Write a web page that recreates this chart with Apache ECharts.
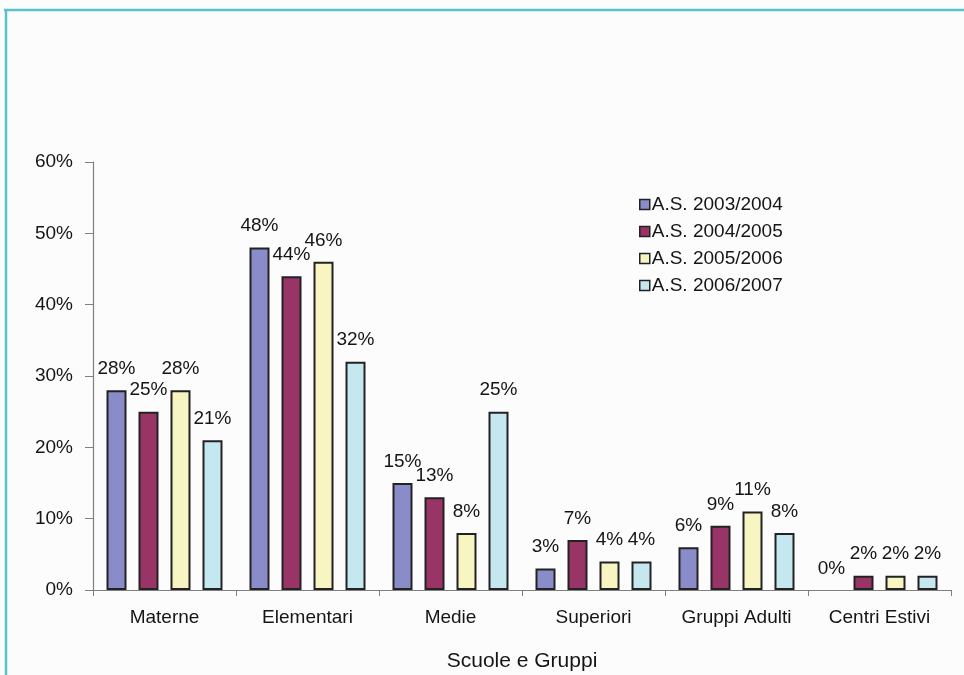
<!DOCTYPE html>
<html>
<head>
<meta charset="utf-8">
<script src="https://cdn.jsdelivr.net/npm/echarts@6/dist/echarts.min.js"></script>
<style>
  html, body { margin: 0; padding: 0; background: #fcfcfc; }
  #chart { width: 964px; height: 675px; }
</style>
</head>
<body>
<div id="chart"></div>
<script>
// Groups on the category axis
const categories = ['Materne', 'Elementari', 'Medie', 'Superiori', 'Gruppi Adulti', 'Centri Estivi'];

// Share (%) per school year
const as2003 = [28, 48, 15, 3, 6, 0];
const as2004 = [25, 44, 13, 7, 9, 2];
const as2005 = [28, 46, 8, 4, 11, 2];
const as2006 = [21, 32, 25, 4, 8, 2];

const seriesNames = ['A.S. 2003/2004', 'A.S. 2004/2005', 'A.S. 2005/2006', 'A.S. 2006/2007'];
const seriesData = [as2003, as2004, as2005, as2006];
const seriesColors = ['#8a8bc9', '#983466', '#f7f5c2', '#c5e8f0'];

const FONT = '"Liberation Sans", Arial, sans-serif';
const TEXT = '#151515';

const chart = echarts.init(document.getElementById('chart'), null, { renderer: 'canvas' });

// zero-height bars get no outline
function barItems(values) {
  return values.map(v => v === 0
    ? { value: v, itemStyle: { borderWidth: 0 } }
    : v);
}

chart.setOption({
  backgroundColor: '#fcfcfc',
  animation: false,
  textStyle: { fontFamily: FONT },
  graphic: [
    { type: 'line', shape: { x1: 4, y1: 10, x2: 964, y2: 10 }, style: { stroke: '#58c3cf', lineWidth: 2.5 } },
    { type: 'line', shape: { x1: 6, y1: 10, x2: 6, y2: 675 }, style: { stroke: '#58c3cf', lineWidth: 2.5 } }
  ],
  legend: {
    orient: 'vertical',
    left: 634,
    top: 190,
    itemWidth: 10,
    itemHeight: 10,
    itemGap: 8,
    icon: 'rect',
    itemStyle: { borderColor: '#222', borderWidth: 1.5 },
    textStyle: { fontFamily: FONT, fontSize: 19, color: TEXT, padding: [0, 0, 0, -3] },
    data: seriesNames
  },
  grid: { left: 93, right: 13, top: 162, bottom: 85, containLabel: false, outerBoundsMode: 'none' },
  xAxis: {
    type: 'category',
    data: categories,
    name: 'Scuole e Gruppi',
    nameLocation: 'middle',
    nameGap: 61,
    nameTextStyle: { fontFamily: FONT, fontSize: 21, color: TEXT },
    axisLine: { lineStyle: { color: '#808080', width: 1.2 } },
    axisTick: { show: true, length: 6, inside: false, lineStyle: { color: '#808080' } },
    axisLabel: { fontFamily: FONT, fontSize: 19, color: TEXT, margin: 18 }
  },
  yAxis: {
    type: 'value',
    min: 0,
    max: 60,
    interval: 10,
    axisLine: { show: true, lineStyle: { color: '#808080', width: 1.2 } },
    axisTick: { show: true, length: 8, lineStyle: { color: '#808080' } },
    splitLine: { show: false },
    axisLabel: { fontFamily: FONT, fontSize: 19, color: TEXT, margin: 20, formatter: '{value}%' }
  },
  series: seriesNames.map((name, i) => ({
    name: name,
    type: 'bar',
    data: barItems(seriesData[i]),
    barWidth: 20,
    barGap: '60%',
    itemStyle: { color: seriesColors[i], borderColor: '#222', borderWidth: 2 },
    label: {
      show: true,
      position: 'top',
      distance: 12,
      formatter: '{c}%',
      fontFamily: FONT,
      fontSize: 19,
      color: TEXT
    }
  }))
});
</script>
</body>
</html>
